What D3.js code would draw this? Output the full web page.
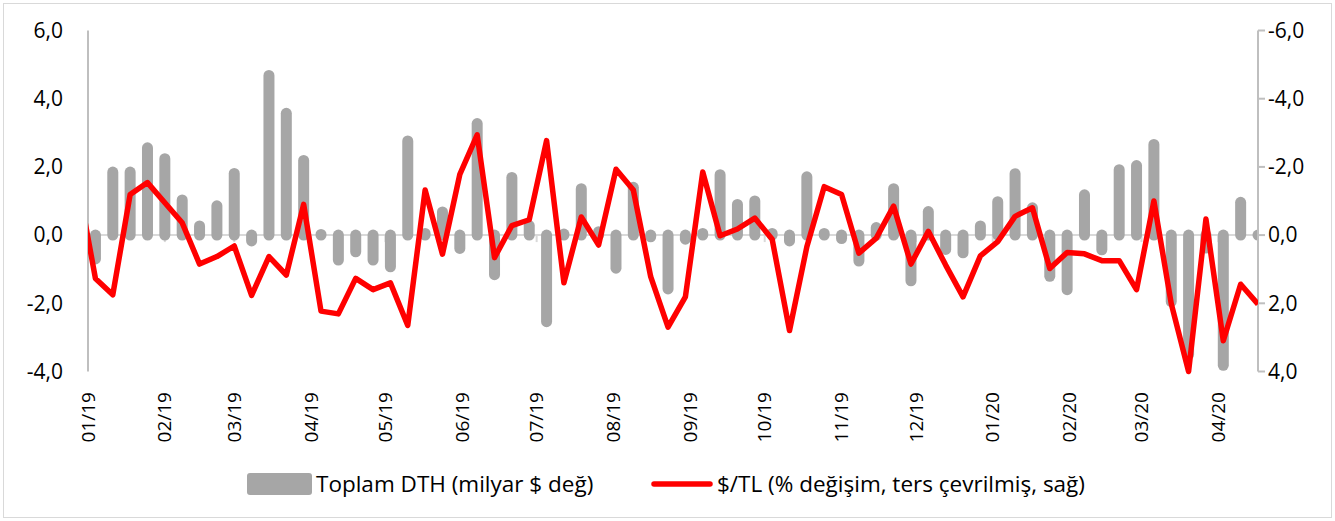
<!DOCTYPE html>
<html>
<head>
  <meta charset="utf-8" />
  <style>
    body { margin: 0; background: #fff; }
    text { font-family: "Open Sans", "Noto Sans", sans-serif; fill: #000; }
  </style>
</head>
<body>
  <svg id="container" width="1335" height="521"></svg>
  <script src="https://cdn.jsdelivr.net/npm/d3@7/dist/d3.min.js"></script>
<script>
// weekly dates (Fridays); the first one sits just before the axis start
var weeks = [
  '2018-12-28',
  '2019-01-04','2019-01-11','2019-01-18','2019-01-25','2019-02-01','2019-02-08','2019-02-15','2019-02-22',
  '2019-03-01','2019-03-08','2019-03-15','2019-03-22','2019-03-29','2019-04-05','2019-04-12','2019-04-19',
  '2019-04-26','2019-05-03','2019-05-10','2019-05-17','2019-05-24','2019-05-31','2019-06-07','2019-06-14',
  '2019-06-21','2019-06-28','2019-07-05','2019-07-12','2019-07-19','2019-07-26','2019-08-02','2019-08-09',
  '2019-08-16','2019-08-23','2019-08-30','2019-09-06','2019-09-13','2019-09-20','2019-09-27','2019-10-04',
  '2019-10-11','2019-10-18','2019-10-25','2019-11-01','2019-11-08','2019-11-15','2019-11-22','2019-11-29',
  '2019-12-06','2019-12-13','2019-12-20','2019-12-27','2020-01-03','2020-01-10','2020-01-17','2020-01-24',
  '2020-01-31','2020-02-07','2020-02-14','2020-02-21','2020-02-28','2020-03-06','2020-03-13','2020-03-20',
  '2020-03-27','2020-04-03','2020-04-10','2020-04-17'
];

// Toplam DTH, weekly change (bn $), left axis
var dth = [
  null,
  -0.70, 1.85, 1.85, 2.56, 2.24, 1.03, 0.27, 0.86,
  1.81, -0.17, 4.68, 3.57, 2.19, 0.02, -0.73, -0.49,
  -0.73, -0.93, 2.76, 0.05, 0.68, -0.39, 3.27, -1.16,
  1.69, 0.28, -2.54, 0.03, 1.36, 0.10, -0.97, 1.40,
  -0.05, -1.58, -0.12, 0.05, 1.77, 0.90, 1.00, 0.05,
  -0.17, 1.71, 0.05, -0.10, -0.76, 0.22, 1.36, -1.34,
  0.69, -0.42, -0.52, 0.27, 0.98, 1.80, 0.80, -1.21,
  -1.60, 1.18, -0.43, 1.92, 2.04, 2.66, -1.95, -3.50,
  -0.38, -3.82, 0.96, 0.00
];

// $/TL weekly % change, inverted, right axis
var usdtry = [
  -1.50,
  1.27, 1.75, -1.19, -1.54, -0.95, -0.36, 0.85, 0.63,
  0.32, 1.77, 0.63, 1.17, -0.90, 2.23, 2.31, 1.27,
  1.60, 1.40, 2.65, -1.32, 0.56, -1.78, -2.94, 0.66,
  -0.28, -0.45, -2.77, 1.40, -0.53, 0.29, -1.93, -1.32,
  1.22, 2.70, 1.81, -1.85, 0.02, -0.18, -0.50, 0.12,
  2.80, 0.34, -1.42, -1.19, 0.53, 0.09, -0.85, 0.85,
  -0.11, 0.88, 1.81, 0.61, 0.19, -0.55, -0.80, 0.98,
  0.51, 0.55, 0.75, 0.75, 1.60, -1.00, 2.01, 4.00,
  -0.47, 3.10, 1.44, 2.03
];

var leftTicks = [6, 4, 2, 0, -2, -4];
var rightTicks = [-6, -4, -2, 0, 2, 4];
var axisStart = '2019-01-01', axisEnd = '2020-04-17';
var legendLabels = ['Toplam DTH (milyar $ değ)', '$/TL (% değişim, ters çevrilmiş, sağ)'];

var parse = d3.timeParse('%Y-%m-%d');
var dates = weeks.map(parse);

var svg = d3.select('#container');
var plotLeft = 88, plotRight = 1258, plotTop = 30.5, plotBottom = 371.5;

var x = d3.scaleTime().domain([parse(axisStart), parse(axisEnd)]).range([plotLeft, plotRight]);
var yL = d3.scaleLinear().domain([-4, 6]).range([plotBottom, plotTop]);
var yR = d3.scaleLinear().domain([-6, 4]).range([plotTop, plotBottom]);

var fmt = function (v) { return d3.format('.1f')(v).replace('.', ',').replace('\u2212', '-'); };

// outer frame
svg.append('rect')
  .attr('x', 3.5).attr('y', 3.5).attr('width', 1328).attr('height', 514)
  .attr('fill', 'none').attr('stroke', '#d9d9d9');

svg.append('clipPath').attr('id', 'plot')
  .append('rect').attr('x', plotLeft).attr('y', 0).attr('width', plotRight - plotLeft).attr('height', 521);

// zero line with month ticks
var months = d3.timeMonth.range(parse(axisStart), x.domain()[1]);
svg.append('line')
  .attr('x1', plotLeft).attr('x2', plotRight).attr('y1', yL(0)).attr('y2', yL(0))
  .attr('stroke', '#d9d9d9').attr('stroke-width', 2);
svg.append('g').selectAll('line').data(months).enter().append('line')
  .attr('x1', function (d) { return x(d); }).attr('x2', function (d) { return x(d); })
  .attr('y1', yL(0)).attr('y2', yL(0) + 7)
  .attr('stroke', '#d9d9d9').attr('stroke-width', 2);

// bars (rounded ends)
var barData = dates.map(function (d, i) { return {d: d, v: dth[i]}; })
  .filter(function (p) { return p.v !== null; });
svg.append('g').attr('clip-path', 'url(#plot)')
  .selectAll('line').data(barData).enter().append('line')
  .attr('x1', function (p) { return x(p.d); }).attr('x2', function (p) { return x(p.d); })
  .attr('y1', yL(0)).attr('y2', function (p) { return yL(p.v); })
  .attr('stroke', '#a6a6a6').attr('stroke-width', 11).attr('stroke-linecap', 'round');

// axis lines
svg.append('line')
  .attr('x1', plotLeft).attr('x2', plotLeft).attr('y1', plotTop).attr('y2', plotBottom)
  .attr('stroke', '#bfbfbf').attr('stroke-width', 2);
svg.append('line')
  .attr('x1', plotRight).attr('x2', plotRight).attr('y1', plotTop).attr('y2', plotBottom)
  .attr('stroke', '#bfbfbf').attr('stroke-width', 2);
svg.append('g').selectAll('line').data(rightTicks).enter().append('line')
  .attr('x1', plotRight).attr('x2', plotRight + 7)
  .attr('y1', function (d) { return yR(d); }).attr('y2', function (d) { return yR(d); })
  .attr('stroke', '#bfbfbf').attr('stroke-width', 2);

// red line
var line = d3.line()
  .x(function (d, i) { return x(dates[i]); })
  .y(function (d) { return yR(d); });
svg.append('path').datum(usdtry)
  .attr('clip-path', 'url(#plot)')
  .attr('d', line)
  .attr('fill', 'none').attr('stroke', '#ff0000').attr('stroke-width', 5.5)
  .attr('stroke-linejoin', 'round');

// tick labels
svg.append('g').selectAll('text').data(leftTicks).enter().append('text')
  .attr('x', 63).attr('y', function (d) { return yL(d); }).attr('dy', '0.35em')
  .attr('text-anchor', 'end').attr('font-size', 21)
  .text(fmt);
svg.append('g').selectAll('text').data(rightTicks).enter().append('text')
  .attr('x', 1268).attr('y', function (d) { return yR(d); }).attr('dy', '0.35em')
  .attr('text-anchor', 'start').attr('font-size', 21)
  .text(fmt);
svg.append('g').selectAll('text').data(months).enter().append('text')
  .attr('transform', function (d) { return 'translate(' + x(d) + ',392) rotate(-90)'; })
  .attr('dy', '0.35em').attr('text-anchor', 'end').attr('font-size', 19)
  .text(d3.timeFormat('%m/%y'));

// legend
var lg = svg.append('g');
lg.append('rect').attr('x', 247).attr('y', 473).attr('width', 65).attr('height', 22)
  .attr('rx', 3).attr('fill', '#a6a6a6');
lg.append('text').attr('x', 316).attr('y', 484).attr('dy', '0.35em').attr('font-size', 22.5)
  .text(legendLabels[0]);
lg.append('line').attr('x1', 654).attr('x2', 710).attr('y1', 484).attr('y2', 484)
  .attr('stroke', '#ff0000').attr('stroke-width', 5.5).attr('stroke-linecap', 'round');
lg.append('text').attr('x', 717).attr('y', 484).attr('dy', '0.35em').attr('font-size', 22.5)
  .text(legendLabels[1]);
</script>
</body>
</html>
